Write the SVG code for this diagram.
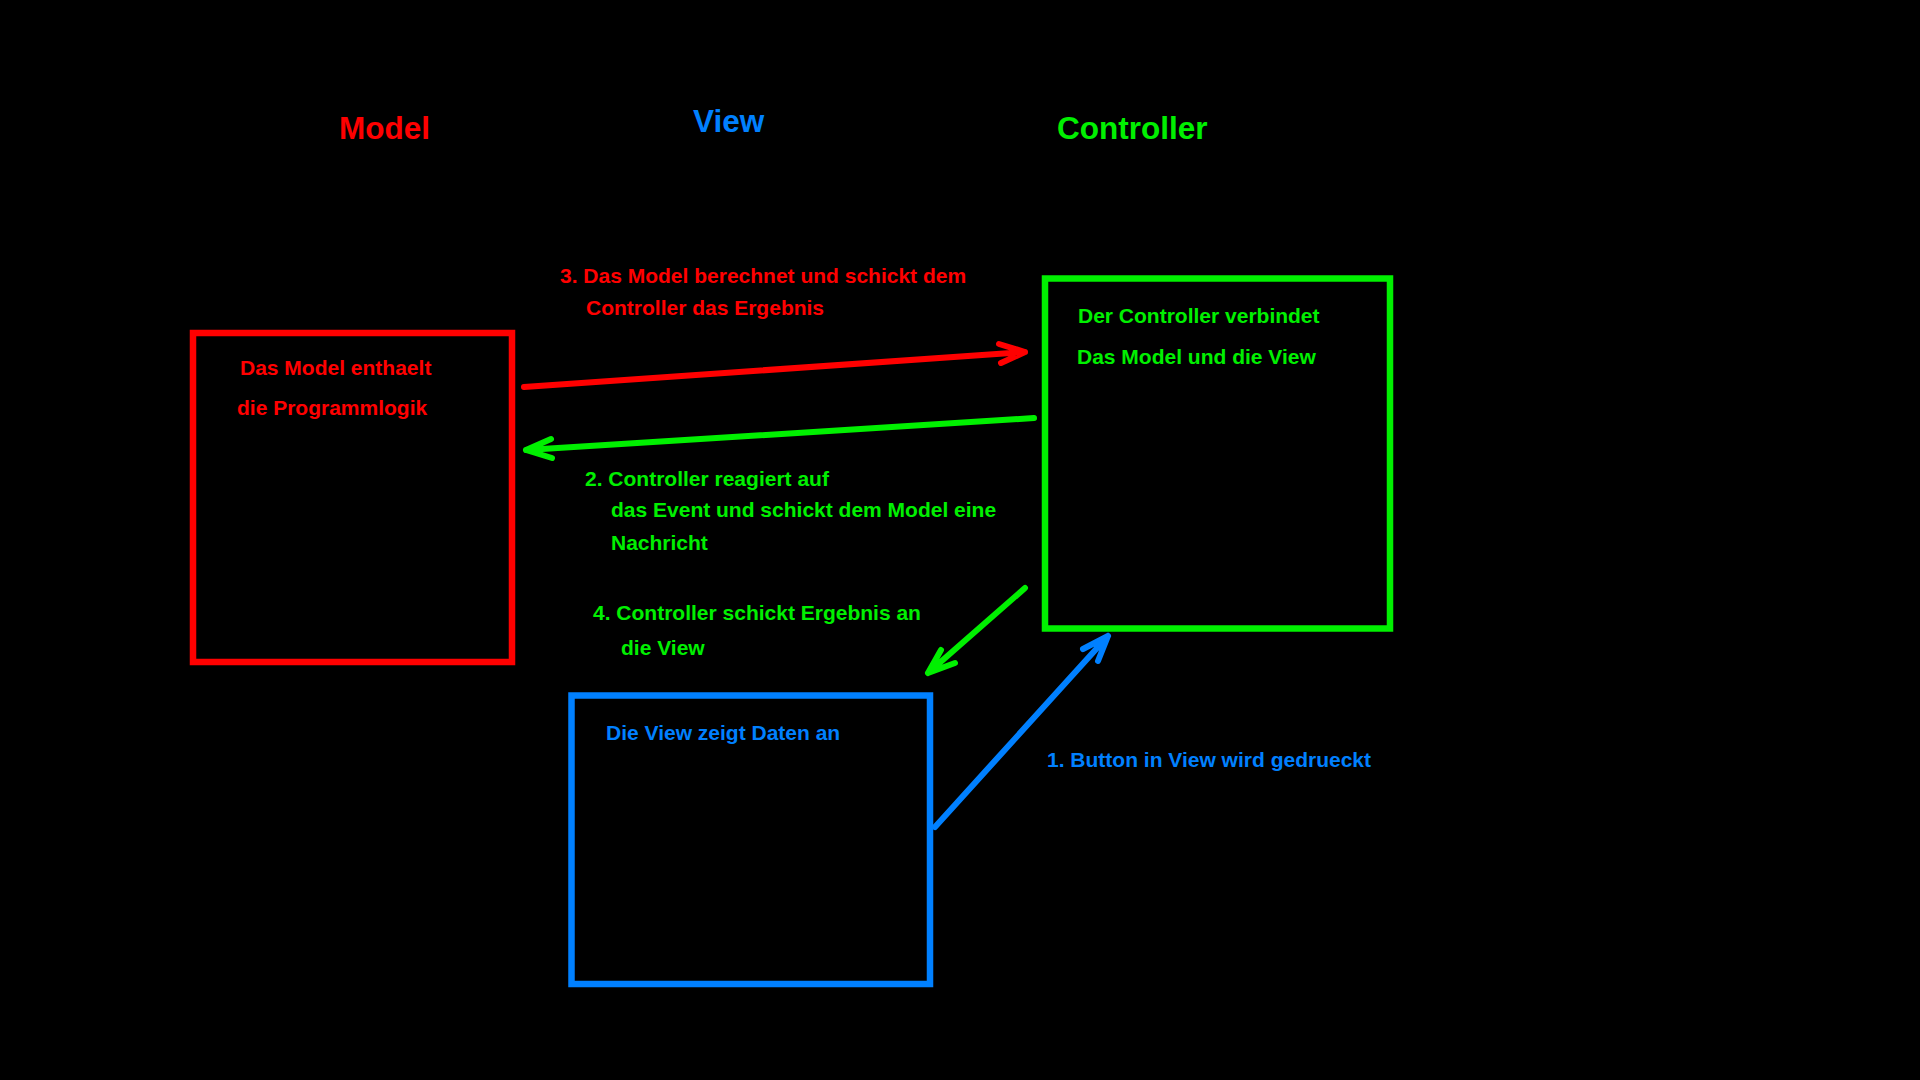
<svg xmlns="http://www.w3.org/2000/svg" width="1920" height="1080" viewBox="0 0 1920 1080">
<style>
text{font-family:"Liberation Sans",Arial,sans-serif;font-weight:bold;}
.t{font-size:31.5px;}
.s{font-size:21px;}
.red{fill:#ff0000;}
.grn{fill:#00f000;}
.blu{fill:#0080ff;}
.box{fill:none;stroke-width:6.5;}
.ln{fill:none;stroke-width:6;stroke-linecap:round;stroke-linejoin:round;}
</style>
<rect width="1920" height="1080" fill="#000"/>
<g id="titles">
<text class="t red" x="339" y="139">Model</text>
<text class="t blu" x="693" y="132">View</text>
<text class="t grn" x="1057" y="139">Controller</text>
</g>
<g id="model">
<rect class="box" x="193" y="333" width="319" height="329" stroke="#ff0000"/>
<text class="s red" x="240" y="375">Das Model enthaelt</text>
<text class="s red" x="237" y="415">die Programmlogik</text>
</g>
<g id="controller">
<rect class="box" x="1045" y="278.5" width="345" height="350" stroke="#00f000"/>
<text class="s grn" x="1078" y="323">Der Controller verbindet</text>
<text class="s grn" x="1077" y="364">Das Model und die View</text>
</g>
<g id="view">
<rect class="box" x="571.5" y="695.5" width="358.5" height="288.5" stroke="#0080ff"/>
<text class="s blu" x="606" y="740">Die View zeigt Daten an</text>
</g>
<g id="connectors">
<path class="ln" stroke="#ff0000" d="M524,387 L1025,352 M999,344 L1025,352 L1001,363"/>
<path class="ln" stroke="#00f000" d="M1034,418 L526,450 M551,439 L526,450 L552,458"/>
<path class="ln" stroke="#00f000" d="M1025,588 L928,673 M941,650 L928,673 L955,663"/>
<path class="ln" stroke="#0080ff" d="M935,827 L1108,636 M1083,649 L1108,636 L1098,661"/>
</g>
<g id="labels">
<text class="s red" x="560" y="283">3. Das Model berechnet und schickt dem</text>
<text class="s red" x="586" y="315">Controller das Ergebnis</text>
<text class="s grn" x="585" y="486">2. Controller reagiert auf</text>
<text class="s grn" x="611" y="517">das Event und schickt dem Model eine</text>
<text class="s grn" x="611" y="550">Nachricht</text>
<text class="s grn" x="593" y="620">4. Controller schickt Ergebnis an</text>
<text class="s grn" x="621" y="655">die View</text>
<text class="s blu" x="1047" y="767">1. Button in View wird gedrueckt</text>
</g>
</svg>
